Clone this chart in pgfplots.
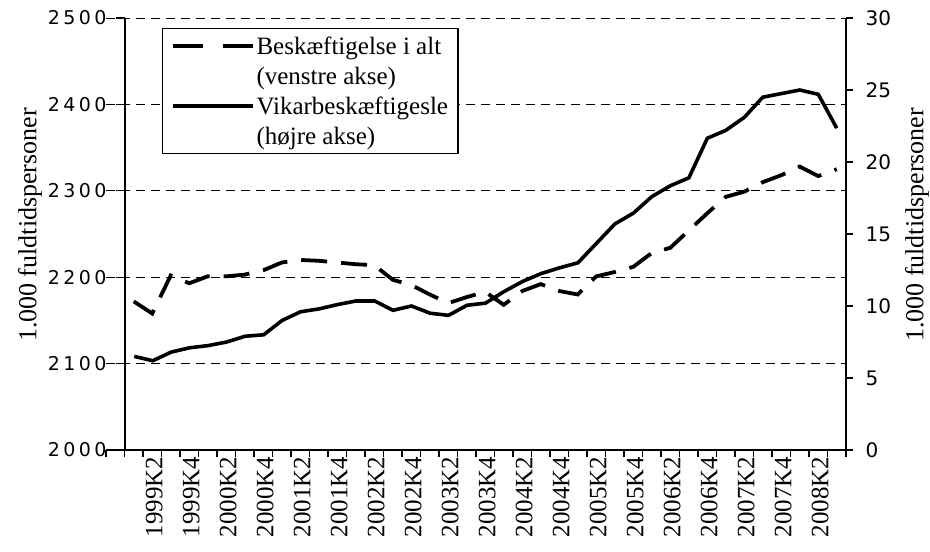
\documentclass[border=0pt]{standalone}
\usepackage{fontspec}
\setmainfont{Liberation Serif}
\newfontfamily\tickL{DejaVu Sans}[LetterSpace=18]
\newfontfamily\tickR{DejaVu Sans}
\usepackage{pgfplots}
\pgfplotsset{compat=1.18}
\usepackage{pgfplotstable}

\pgfplotstableread{
i val
0 2172
1 2158
2 2202
3 2193
4 2201
5 2201
6 2203
7 2208
8 2217
9 2220
10 2219
11 2217
12 2215
13 2214
14 2197
15 2191
16 2180
17 2170
18 2177
19 2183
20 2168
21 2184
22 2192
23 2184
24 2180
25 2201
26 2206
27 2212
28 2228
29 2234
30 2254
31 2274
32 2293
33 2299
34 2310
35 2318
36 2328
37 2317
38 2325
}\beskdata

\pgfplotstableread{
i val
0 6.5
1 6.2
2 6.8
3 7.1
4 7.25
5 7.5
6 7.9
7 8.0
8 9.0
9 9.6
10 9.8
11 10.1
12 10.35
13 10.35
14 9.7
15 10.0
16 9.5
17 9.35
18 10.05
19 10.2
20 11.0
21 11.7
22 12.25
23 12.65
24 13.0
25 14.35
26 15.7
27 16.45
28 17.6
29 18.35
30 18.9
31 21.65
32 22.2
33 23.1
34 24.5
35 24.75
36 25.0
37 24.7
38 22.35
}\vikardata

\begin{document}
\begin{tikzpicture}
% axis 1: grid, x axis, employment (left scale)
\begin{axis}[
  at={(106pt,102pt)}, anchor=south west,
  scale only axis, width=740pt, height=432pt,
  xmin=-1.5, xmax=38.5, ymin=2000, ymax=2500,
  axis x line*=bottom, axis y line*=left,
  y axis line style={draw=none},
  x axis line style={line width=1.5pt, -},
  ytick={2100,2200,2300,2400,2500}, yticklabels={},
  ytick style={draw=none},
  ymajorgrids,
  major grid style={line width=0.9pt, dash pattern=on 9pt off 6pt, black},
  xtick={1,3,...,37},
  xticklabels={1999K2,1999K4,2000K2,2000K4,2001K2,2001K4,2002K2,2002K4,2003K2,2003K4,2004K2,2004K4,2005K2,2005K4,2006K2,2006K4,2007K2,2007K4,2008K2},
  xticklabel style={rotate=90, anchor=east, font=\fontsize{25}{28}\selectfont, xshift=1pt, yshift=-2pt},
  major x tick style={draw=none},
  minor xtick={-1.5,-0.5,...,38.5},
  minor x tick style={line width=1.3pt, black},
  minor tick length=7pt,
  tick align=outside,
]
\addplot[black, line width=3.8pt, dash pattern=on 26pt off 14pt] table[x=i,y=val]{\beskdata};
\end{axis}

% axis 0: left y axis
\begin{axis}[
  at={(125pt,102pt)}, anchor=south west,
  scale only axis, width=721pt, height=432pt,
  xmin=-0.5, xmax=38.5, ymin=2000, ymax=2500,
  axis y line*=left, axis x line=none,
  y axis line style={line width=1.5pt, -},
  ytick={2000,2100,...,2500},
  yticklabels={2000,2100,2200,2300,2400,2500},
  yticklabel style={font=\tickL\fontsize{19}{22}\selectfont, xshift=-6pt},
  major tick length=9pt, tick align=outside,
  ytick style={line width=1.3pt, black},
  ylabel={1.000 fuldtidspersoner},
  every axis y label/.style={at={(rel axis cs:0,0.5)}, xshift=-95pt, yshift=9pt, rotate=90, anchor=center, font=\fontsize{26}{28}\selectfont},
]
\end{axis}

% axis 2: right y axis, temp employment
\begin{axis}[
  at={(125pt,102pt)}, anchor=south west,
  scale only axis, width=721pt, height=432pt,
  xmin=-0.5, xmax=38.5, ymin=0, ymax=30,
  axis y line*=right, axis x line=none,
  y axis line style={line width=1.5pt, -},
  ytick={0,5,...,30},
  yticklabels={0,5,10,15,20,25,30},
  yticklabel style={font=\tickR\fontsize{20}{22}\selectfont, xshift=9pt},
  major tick length=7pt, tick align=outside,
  ytick style={line width=1.3pt, black},
  ylabel={1.000 fuldtidspersoner},
  every axis y label/.style={at={(rel axis cs:1,0.5)}, xshift=71pt, yshift=9pt, rotate=90, anchor=center, font=\fontsize{26}{28}\selectfont},
  legend style={at={(rel axis cs:0.0513,0.977)}, anchor=north west, draw=black, line width=1.5pt, fill=white,
    font=\fontsize{25}{29}\selectfont, inner xsep=8pt, inner ysep=6pt, row sep=7pt,
    /tikz/every even column/.append style={column sep=4pt}},
  legend cell align=left,
  legend image code/.code={\draw[#1] (0pt,0pt) -- (80pt,0pt);},
]
\addlegendimage{black, line width=3.8pt, dash pattern=on 30pt off 20pt}
\addlegendentry{Beskæftigelse i alt}
\addlegendimage{empty legend}
\addlegendentry{(venstre akse)}
\addplot[black, line width=3.6pt] table[x=i,y=val]{\vikardata};
\addlegendentry{Vikarbeskæftigesle}
\addlegendimage{empty legend}
\addlegendentry{(højre akse)}
\end{axis}
\pgfresetboundingbox
\path[use as bounding box] (0,0) rectangle (930pt,552pt);
\end{tikzpicture}
\end{document}
